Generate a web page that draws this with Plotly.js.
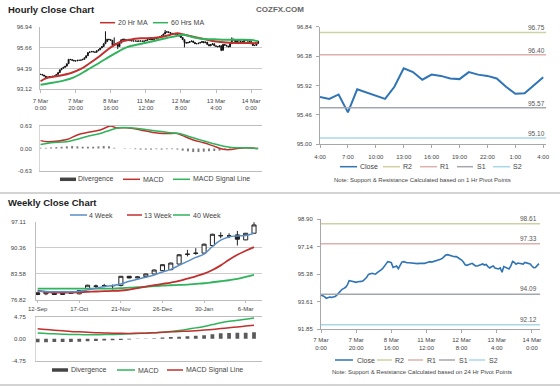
<!DOCTYPE html>
<html><head><meta charset="utf-8">
<script src="https://cdn.plot.ly/plotly-3.0.1.min.js"></script>
<style>html,body{margin:0;padding:0;background:#fff;}#chart{width:560px;height:386px;}</style>
</head><body><div id="chart"></div>
<script>
// ---------------- DATA ----------------
const hourTickIdx = [0, 20, 40, 60, 80, 100, 120];
const hourTickText = ['7 Mar<br>0:00', '7 Mar<br>20:00', '8 Mar<br>16:00', '11 Mar<br>12:00', '12 Mar<br>8:00', '13 Mar<br>4:00', '14 Mar<br>0:00'];
const hourPriceTicks = ['93.12', '94.39', '95.66', '96.94'];

const hourlyClose = [
  94.03, 93.99, 93.93, 93.82, 93.86, 93.90, 93.88, 93.92, 93.93, 94.03,
  94.14, 94.31, 94.40, 94.46, 94.53, 94.68, 94.95, 94.93, 94.89, 94.85,
  94.85, 94.89, 94.89, 94.91, 94.95, 95.04, 95.17, 95.36, 95.40, 95.43,
  95.40, 95.38, 95.47, 95.53, 95.64, 95.73, 95.90, 96.03, 96.18, 96.15,
  96.11, 95.81, 95.85, 95.90, 95.73, 95.94, 96.15, 96.18, 96.13, 96.11,
  96.11, 96.09, 96.07, 96.07, 96.07, 96.05, 96.07, 96.07, 96.05, 96.07,
  96.11, 96.15, 96.18, 96.15, 96.18, 96.20, 96.24, 96.28, 96.33, 96.39,
  96.50, 96.60, 96.63, 96.58, 96.54, 96.52, 96.50, 96.50, 96.43, 96.37,
  96.28, 96.15, 95.98, 95.94, 95.98, 96.03, 96.07, 95.98, 95.90, 95.90,
  95.94, 95.98, 96.03, 95.96, 96.00, 95.85, 95.77, 95.85, 95.90, 95.77,
  95.74, 95.71, 95.78, 95.50, 95.86, 95.81, 95.76, 95.71, 95.90, 96.19,
  96.13, 96.01, 96.09, 96.07, 96.03, 96.02, 96.13, 96.09, 96.07, 96.03,
  95.90, 95.79, 95.80, 95.92, 96.05
];
const spikeIdx = [37, 42, 71, 109];
const spikeHigh = [96.66, 96.29, 96.74, 96.29];
const dipIdx = [44, 82, 103];
const dipLow = [95.58, 95.68, 95.45];

const ma20Hours = [0, 3, 9, 17, 23, 28, 34, 40, 45, 51, 57, 63, 68, 74, 78, 82, 87, 93, 99, 104, 112, 118, 124];
const ma20 = [93.61, 93.79, 93.91, 94.10, 94.36, 94.71, 95.17, 95.68, 95.99, 96.15, 96.23, 96.25, 96.29, 96.45, 96.54, 96.45, 96.33, 96.19, 96.05, 95.99, 95.95, 95.95, 95.93];
const ma60Hours = [0, 5, 13, 19, 26, 34, 42, 49, 57, 64, 72, 78, 82, 87, 93, 99, 106, 114, 120, 124];
const ma60 = [93.40, 93.49, 93.65, 93.85, 94.26, 94.77, 95.28, 95.68, 95.89, 96.05, 96.25, 96.39, 96.45, 96.29, 96.19, 96.17, 96.15, 96.15, 96.13, 96.05];

const hMacdHours = [0, 4, 15, 21, 26, 34, 40, 43, 49, 57, 64, 72, 78, 81, 87, 93, 98, 104, 108, 112, 117, 124];
const hMacd = [0.22, 0.19, 0.25, 0.38, 0.44, 0.52, 0.63, 0.58, 0.58, 0.52, 0.45, 0.42, 0.42, 0.36, 0.24, 0.16, 0.08, -0.02, -0.03, 0.00, 0.02, 0.00];
const hSignalHours = [0, 6, 15, 21, 26, 34, 40, 45, 51, 59, 66, 74, 79, 85, 91, 98, 106, 112, 117, 124];
const hSignal = [0.11, 0.16, 0.19, 0.26, 0.33, 0.42, 0.52, 0.58, 0.58, 0.54, 0.49, 0.44, 0.42, 0.33, 0.24, 0.14, 0.05, 0.02, 0.02, 0.00];
const hDivHours = [0,3,6,9,12,15,18,21,24,27,30,33,36,39,42,45,48,51,54,57,60,63,66,69,72,75,78,81,84,87,90,93,96,99,102,105,108,111,114,117,120,123];
const hDiv = [0.02, 0.02, 0.03, 0.04, 0.05, 0.06, 0.07, 0.06, 0.05, 0.05, 0.05, 0.06, 0.07, 0.06, 0.02, 0.00, -0.01, -0.01, -0.02, -0.03, -0.03, -0.03, -0.02, -0.03, -0.02, -0.02, -0.03, -0.06, -0.08, -0.10, -0.10, -0.09, -0.08, -0.07, -0.06, -0.04, -0.01, 0.01, 0.02, 0.01, 0.01, 0.01];

const last24Ticks = ['4:00', '7:00', '10:00', '13:00', '16:00', '19:00', '22:00', '1:00', '4:00'];
const last24PriceTicks = ['95.00', '95.46', '95.92', '96.38', '96.84'];
const pivotNames = ['R2', 'R1', 'S1', 'S2'];
const pivot1h = [96.75, 96.40, 95.57, 95.10];
const pivot24h = [98.61, 97.33, 94.09, 92.12];
const pivotColors = ['#cfd1a3', '#deb0ae', '#a3a7ad', '#a8d8e8'];
const dayPriceTicks = ['91.85', '93.61', '95.38', '97.14', '98.90'];

const weekLabels = ['12-Sep', '17-Oct', '21-Nov', '26-Dec', '30-Jan', '6-Mar'];
const weekLabelIdx = [0, 5, 10, 15, 20, 25];
const weekPriceTicks = ['76.82', '83.58', '90.36', '97.11'];
const weeklyOpen  = [78.57, 78.31, 78.57, 78.14, 78.45, 78.31, 79.70, 80.35, 80.45, 80.48, 80.48, 82.92, 82.48, 82.83, 83.53, 84.40, 84.66, 86.14, 88.75, 89.01, 89.01, 91.01, 93.62, 93.54, 93.80, 92.49, 94.23];
const weeklyHigh  = [78.66, 78.90, 78.60, 78.60, 78.70, 79.30, 80.70, 80.75, 80.92, 80.75, 83.00, 83.00, 82.90, 83.60, 84.70, 86.10, 86.50, 88.70, 89.88, 90.32, 91.50, 94.10, 94.49, 94.23, 94.84, 94.30, 97.27];
const weeklyLow   = [77.96, 77.96, 78.00, 78.00, 78.30, 78.20, 79.60, 79.70, 80.05, 79.44, 80.30, 82.40, 82.40, 82.70, 83.40, 84.30, 84.50, 86.00, 88.14, 88.58, 88.90, 90.90, 92.93, 92.93, 91.01, 92.40, 94.10];
const weeklyClose = [78.14, 78.83, 78.14, 78.57, 78.50, 79.18, 80.57, 80.31, 80.48, 80.45, 82.92, 82.48, 82.75, 83.53, 84.57, 85.97, 86.40, 88.58, 88.70, 88.95, 91.36, 93.97, 93.58, 93.50, 92.66, 94.23, 96.41];
const ma4w  = [79.00, 78.92, 78.83, 78.83, 78.83, 79.00, 79.35, 79.79, 80.22, 80.48, 80.92, 81.62, 82.14, 82.66, 83.27, 84.05, 84.75, 85.79, 86.84, 87.88, 88.75, 90.75, 92.40, 93.27, 93.53, 93.62, 94.23];
const ma13w = [79.18, 78.83, 78.66, 78.66, 78.66, 78.74, 78.83, 78.92, 79.00, 79.09, 79.18, 79.44, 79.79, 80.22, 80.57, 80.92, 81.27, 81.70, 82.31, 82.92, 83.62, 84.57, 85.79, 87.27, 88.58, 89.62, 90.58];
const ma40w = [79.70, 79.70, 79.70, 79.70, 79.70, 79.70, 79.70, 79.70, 79.70, 79.70, 79.79, 79.96, 80.05, 80.14, 80.31, 80.48, 80.57, 80.66, 80.75, 80.92, 81.09, 81.35, 81.62, 81.88, 82.22, 82.75, 83.27];
const wMacd   = [1.22, 1.12, 1.05, 0.98, 0.91, 0.91, 0.84, 0.84, 0.91, 0.91, 0.98, 1.05, 1.12, 1.19, 1.26, 1.40, 1.54, 1.75, 2.03, 2.32, 2.60, 3.02, 3.44, 3.72, 3.93, 4.15, 4.43];
const wSignal = [2.15, 1.98, 1.84, 1.70, 1.56, 1.47, 1.38, 1.30, 1.24, 1.20, 1.16, 1.14, 1.17, 1.19, 1.28, 1.40, 1.47, 1.55, 1.62, 1.72, 1.85, 2.00, 2.18, 2.36, 2.52, 2.70, 2.90];
const wDiv = [-0.75, -0.75, -0.72, -0.70, -0.68, -0.62, -0.55, -0.48, -0.40, -0.32, -0.25, -0.15, -0.08, 0.05, 0.12, 0.25, 0.35, 0.45, 0.55, 0.65, 0.75, 0.95, 1.15, 1.25, 1.30, 1.30, 1.40];

// ---------------- BUILD ----------------
const W = 560, H = 386;
const X = p => p / W;
const Y = p => 1 - p / H;
const FONT = '"Liberation Sans", Arial, sans-serif';
const tickFont = {family: FONT, size: 6, color: '#444'};

const hourIdx = hourlyClose.map((_, i) => i);
const hourlyOpen = hourlyClose.map((c, i) => i ? hourlyClose[i - 1] : c);
const hourlyHigh = hourlyClose.map((c, i) => Math.max(c, hourlyOpen[i]));
const hourlyLow = hourlyClose.map((c, i) => Math.min(c, hourlyOpen[i]));
spikeIdx.forEach((k, j) => { hourlyHigh[k] = Math.max(hourlyHigh[k], spikeHigh[j]); });
dipIdx.forEach((k, j) => { hourlyLow[k] = Math.min(hourlyLow[k], dipLow[j]); });
const last24 = hourlyClose.slice(100);
const last24Idx = last24.map((_, i) => i);
const weekIdx = weeklyClose.map((_, i) => i);

const RED = '#c0302f', GREEN = '#2fb35b', BLUE = '#5a8ec6', CLOSE = '#2f74b5', DIV = '#5a5a5a';

const traces = [
  {type: 'candlestick', x: hourIdx, open: hourlyOpen, high: hourlyHigh, low: hourlyLow, close: hourlyClose,
   xaxis: 'x', yaxis: 'y', whiskerwidth: 0, hoverinfo: 'skip',
   increasing: {line: {color: '#111', width: 1}, fillcolor: '#111'},
   decreasing: {line: {color: '#111', width: 1}, fillcolor: '#111'}},
  {type: 'scatter', mode: 'lines', x: ma20Hours, y: ma20, xaxis: 'x', yaxis: 'y', line: {color: RED, width: 2, shape: 'spline'}},
  {type: 'scatter', mode: 'lines', x: ma60Hours, y: ma60, xaxis: 'x', yaxis: 'y', line: {color: GREEN, width: 2, shape: 'spline'}},

  {type: 'bar', x: hDivHours, y: hDiv, xaxis: 'x2', yaxis: 'y2', width: 1.1, marker: {color: '#7a7a7a'}},
  {type: 'scatter', mode: 'lines', x: hMacdHours, y: hMacd, xaxis: 'x2', yaxis: 'y2', line: {color: RED, width: 1.5, shape: 'spline'}},
  {type: 'scatter', mode: 'lines', x: hSignalHours, y: hSignal, xaxis: 'x2', yaxis: 'y2', line: {color: GREEN, width: 1.5, shape: 'spline'}},

  {type: 'scatter', mode: 'lines', x: last24Idx, y: last24, xaxis: 'x3', yaxis: 'y3', line: {color: CLOSE, width: 2}},

  {type: 'candlestick', x: weekIdx, open: weeklyOpen, high: weeklyHigh, low: weeklyLow, close: weeklyClose,
   xaxis: 'x4', yaxis: 'y4', whiskerwidth: 0, hoverinfo: 'skip',
   increasing: {line: {color: '#222', width: 1}, fillcolor: '#ffffff'},
   decreasing: {line: {color: '#222', width: 1}, fillcolor: '#222'}},
  {type: 'scatter', mode: 'lines', x: weekIdx, y: ma40w, xaxis: 'x4', yaxis: 'y4', line: {color: GREEN, width: 1.8, shape: 'spline'}},
  {type: 'scatter', mode: 'lines', x: weekIdx, y: ma13w, xaxis: 'x4', yaxis: 'y4', line: {color: RED, width: 1.8, shape: 'spline'}},
  {type: 'scatter', mode: 'lines', x: weekIdx, y: ma4w, xaxis: 'x4', yaxis: 'y4', line: {color: BLUE, width: 1.5, shape: 'spline'}},

  {type: 'bar', x: weekIdx, y: wDiv, xaxis: 'x5', yaxis: 'y5', width: 0.45, marker: {color: DIV}},
  {type: 'scatter', mode: 'lines', x: weekIdx, y: wMacd, xaxis: 'x5', yaxis: 'y5', line: {color: GREEN, width: 1.5, shape: 'spline'}},
  {type: 'scatter', mode: 'lines', x: weekIdx, y: wSignal, xaxis: 'x5', yaxis: 'y5', line: {color: RED, width: 1.5, shape: 'spline'}},

  {type: 'scatter', mode: 'lines', x: hourIdx, y: hourlyClose, xaxis: 'x6', yaxis: 'y6', line: {color: CLOSE, width: 1.6}}
];

const baseAxis = {showgrid: false, zeroline: false, fixedrange: true, tickfont: tickFont, linecolor: '#bdbdbd', tickcolor: '#bdbdbd'};
const num = a => a.map(Number);

const layout = {
  width: W, height: H, margin: {l: 0, r: 0, t: 0, b: 0},
  paper_bgcolor: '#ffffff', plot_bgcolor: 'rgba(0,0,0,0)', showlegend: false,
  font: {family: FONT, size: 6, color: '#444'},
  xaxis: Object.assign({}, baseAxis, {domain: [X(40), X(262)], range: [-0.3, 126.2], anchor: 'y',
    tickmode: 'array', tickvals: hourTickIdx, ticktext: hourTickText, showline: true, ticks: 'outside', ticklen: 3,
    rangeslider: {visible: false}, ticklabelstandoff: 2}),
  yaxis: Object.assign({}, baseAxis, {domain: [Y(89.3), Y(26.7)], range: [93.12, 96.94], anchor: 'x',
    tickmode: 'array', tickvals: num(hourPriceTicks), ticktext: hourPriceTicks, showgrid: true, gridcolor: '#cccccc',
    showline: true, ticks: '', ticklabelstandoff: 6}),
  xaxis2: Object.assign({}, baseAxis, {domain: [X(40), X(262)], range: [-0.3, 126.2], anchor: 'y2',
    showticklabels: false, showline: true, mirror: true, ticks: ''}),
  yaxis2: Object.assign({}, baseAxis, {domain: [Y(171), Y(126)], range: [-0.63, 0.63], anchor: 'x2',
    tickmode: 'array', tickvals: [-0.63, 0, 0.63], ticktext: ['-0.63', '0.00', '0.63'], showline: true, linecolor: '#d6d6d6', ticks: '', ticklabelstandoff: 6}),
  xaxis3: Object.assign({}, baseAxis, {domain: [X(320), X(546)], range: [0, 24.3], anchor: 'y3',
    tickmode: 'array', tickvals: [0, 3, 6, 9, 12, 15, 18, 21, 24], ticktext: last24Ticks, showline: true, linecolor: '#a8a8a8', tickcolor: '#a8a8a8',
    ticks: 'outside', ticklen: 3, ticklabelstandoff: 3}),
  yaxis3: Object.assign({}, baseAxis, {domain: [Y(144.3), Y(26.7)], range: [95.00, 96.84], anchor: 'x3',
    tickmode: 'array', tickvals: num(last24PriceTicks), ticktext: last24PriceTicks, showline: true, linecolor: '#a8a8a8', tickcolor: '#a8a8a8',
    ticks: 'outside', ticklen: 3, ticklabelstandoff: 3}),
  xaxis4: Object.assign({}, baseAxis, {domain: [X(36), X(262)], range: [-0.2, 26.96], anchor: 'y4',
    tickmode: 'array', tickvals: weekLabelIdx, ticktext: weekLabels, showline: true, ticks: 'outside', ticklen: 2,
    rangeslider: {visible: false}, ticklabelstandoff: 1}),
  yaxis4: Object.assign({}, baseAxis, {domain: [Y(299.5), Y(222.3)], range: [76.82, 97.11], anchor: 'x4',
    tickmode: 'array', tickvals: num(weekPriceTicks), ticktext: weekPriceTicks, showgrid: true, gridcolor: '#cccccc',
    showline: true, ticks: '', ticklabelstandoff: 8}),
  xaxis5: Object.assign({}, baseAxis, {domain: [X(36), X(262)], range: [-0.2, 26.96], anchor: 'y5',
    showticklabels: false, showline: true, mirror: true, ticks: ''}),
  yaxis5: Object.assign({}, baseAxis, {domain: [Y(361), Y(316.5)], range: [-4.75, 4.75], anchor: 'x5',
    tickmode: 'array', tickvals: [-4.75, 0, 4.75], ticktext: ['-4.75', '0.00', '4.75'], showline: true, linecolor: '#d6d6d6', ticks: '', ticklabelstandoff: 8}),
  xaxis6: Object.assign({}, baseAxis, {domain: [X(321), X(540)], range: [0, 124.6], anchor: 'y6',
    tickmode: 'array', tickvals: hourTickIdx, ticktext: hourTickText, showline: true, linecolor: '#a8a8a8', tickcolor: '#a8a8a8',
    ticks: 'outside', ticklen: 3, ticklabelstandoff: 2}),
  yaxis6: Object.assign({}, baseAxis, {domain: [Y(329), Y(219.3)], range: [91.85, 98.90], anchor: 'x6',
    tickmode: 'array', tickvals: num(dayPriceTicks), ticktext: dayPriceTicks, showline: true, linecolor: '#a8a8a8', tickcolor: '#a8a8a8',
    ticks: 'outside', ticklen: 3, ticklabelstandoff: 3}),
  shapes: [],
  annotations: []
};

const shapes = layout.shapes, ann = layout.annotations;

// separators
shapes.push({type: 'line', xref: 'paper', yref: 'paper', x0: 0, x1: 1, y0: Y(193), y1: Y(193), line: {color: '#c4c4c4', width: 1.5}});
shapes.push({type: 'line', xref: 'paper', yref: 'paper', x0: 0, x1: 1, y0: Y(385), y1: Y(385), line: {color: '#c4c4c4', width: 1.5}});

// pivot lines + labels
pivotNames.forEach((n, i) => {
  shapes.push({type: 'line', xref: 'x3 domain', yref: 'y3', x0: 0, x1: 1, y0: pivot1h[i], y1: pivot1h[i], line: {color: pivotColors[i], width: 1.5}});
  ann.push({xref: 'x3 domain', yref: 'y3', x: 1, y: pivot1h[i], xanchor: 'right', yanchor: 'bottom', yshift: 0, showarrow: false,
    text: pivot1h[i].toFixed(2), font: {family: FONT, size: 6.5, color: '#555'}, borderpad: 0});
  shapes.push({type: 'line', xref: 'x6 domain', yref: 'y6', x0: 0, x1: 1, y0: pivot24h[i], y1: pivot24h[i], line: {color: pivotColors[i], width: 1.5}});
  ann.push({xref: 'x6 domain', yref: 'y6', x: 0.99, y: pivot24h[i], xanchor: 'right', yanchor: 'bottom', yshift: 1, showarrow: false,
    text: pivot24h[i].toFixed(2), font: {family: FONT, size: 6.5, color: '#555'}, borderpad: 0});
});

function text(x, y, t, opts) {
  ann.push(Object.assign({xref: 'paper', yref: 'paper', x: X(x), y: Y(y), xanchor: 'left', yanchor: 'middle', text: t,
    showarrow: false, borderpad: 0, font: {family: FONT, size: 7, color: '#444'}}, opts || {}));
}
function swatch(x0, x1, y, color, width) {
  shapes.push({type: 'line', xref: 'paper', yref: 'paper', x0: X(x0), x1: X(x1), y0: Y(y), y1: Y(y), line: {color: color, width: width}});
}
function legend(y, items) {
  items.forEach(it => { swatch(it[0], it[1], y, it[2], it[3]); text(it[4], y, it[5]); });
}

// titles
text(7, 9.5, '<b>Hourly Close Chart</b>', {font: {family: FONT, size: 9.5, color: '#222'}});
text(7, 202.5, '<b>Weekly Close Chart</b>', {font: {family: FONT, size: 9.5, color: '#222'}});
text(280, 10, '<b>COZFX.COM</b>', {xanchor: 'center', font: {family: FONT, size: 8, color: '#666'}});

// legends
legend(22.7, [[100, 115, RED, 1.5, 117, '20 Hr MA'], [153, 168, GREEN, 1.5, 170, '60 Hrs MA']]);
legend(179.3, [[60, 76, '#444', 3.5, 77, 'Divergence'], [123, 140, RED, 1.5, 142, 'MACD'], [173, 190, GREEN, 1.5, 192, 'MACD Signal Line']]);
legend(166.7, [[340, 357, CLOSE, 1.5, 359, 'Close'], [383, 400, pivotColors[0], 1.5, 402, pivotNames[0]], [420, 437, pivotColors[1], 1.5, 439, pivotNames[1]],
               [457, 473, pivotColors[2], 1.5, 476, pivotNames[2]], [493, 510, pivotColors[3], 1.5, 512, pivotNames[3]]]);
text(422, 180, 'Note: Support &amp; Resistance Calculated based on 1 Hr Pivot Points', {xanchor: 'center', font: {family: FONT, size: 6, color: '#444'}});

legend(215, [[70, 87, BLUE, 1.5, 88, '4 Week'], [127, 142, RED, 1.5, 143, '13 Week'], [173, 190, GREEN, 1.5, 192, '40 Week']]);
legend(370, [[52, 68, '#444', 3.5, 70, 'Divergence'], [117, 135, GREEN, 1.5, 137, 'MACD'], [167, 183, RED, 1.5, 185, 'MACD Signal Line']]);
legend(360, [[335, 353, CLOSE, 1.5, 356, 'Close'], [377, 392, pivotColors[0], 1.5, 394, pivotNames[0]], [408, 423, pivotColors[1], 1.5, 426, pivotNames[1]],
             [439, 455, pivotColors[2], 1.5, 458, pivotNames[2]], [469, 485, pivotColors[3], 1.5, 488, pivotNames[3]]]);
text(422, 372, 'Note: Support &amp; Resistance Calculated based on 24 Hr Pivot Points', {xanchor: 'center', font: {family: FONT, size: 6, color: '#444'}});

Plotly.newPlot('chart', traces, layout, {staticPlot: true, displayModeBar: false});
</script></body></html>
